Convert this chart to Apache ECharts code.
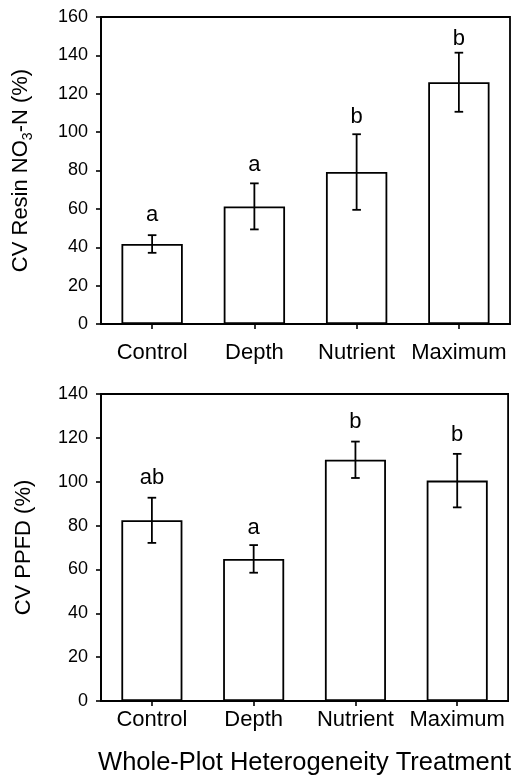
<!DOCTYPE html>
<html>
<head>
<meta charset="utf-8">
<script src="https://cdn.jsdelivr.net/npm/echarts@6/dist/echarts.min.js"></script>
<style>
html,body{margin:0;padding:0;background:#fff;}
#chart{width:513px;height:782px;}
</style>
</head>
<body>
<div id="chart"></div>
<script>
// ---- data ----
var categories = ['Control', 'Depth', 'Nutrient', 'Maximum'];

var nitrateMean = [41.7, 61.3, 79.2, 126.0];
var nitrateSE   = [4.6, 12.0, 19.7, 15.4];
var nitrateLetters = ['a', 'a', 'b', 'b'];
var nitrateLetterPos = [57, 83, 108, 148.5];

var ppfdMean = [82.4, 64.8, 110.0, 100.5];
var ppfdSE   = [10.3, 6.3, 8.3, 12.2];
var ppfdLetters = ['ab', 'a', 'b', 'b'];
var ppfdLetterPos = [101.5, 79, 127.4, 121.3];

var nitrateTicks = {min: 0, max: 160, interval: 20};
var ppfdTicks = {min: 0, max: 140, interval: 20};

// ---- chart ----
var FONT = 'Liberation Sans, Arial, Helvetica, sans-serif';
var chart = echarts.init(document.getElementById('chart'), null, {renderer: 'canvas'});

function errData(means, se) {
  return means.map(function (m, i) { return [i, m - se[i], m + se[i]]; });
}
function letterData(pos, letters) {
  return pos.map(function (p, i) { return [i, p, letters[i]]; });
}
function errRender(params, api) {
  var x = api.value(0);
  var lo = api.coord([x, api.value(1)]);
  var hi = api.coord([x, api.value(2)]);
  var hw = 4.3;
  var st = {stroke: '#000', lineWidth: 1.8};
  return {
    type: 'group',
    children: [
      {type: 'line', shape: {x1: lo[0], y1: lo[1], x2: hi[0], y2: hi[1]}, style: st},
      {type: 'line', shape: {x1: hi[0] - hw, y1: hi[1], x2: hi[0] + hw, y2: hi[1]}, style: st},
      {type: 'line', shape: {x1: lo[0] - hw, y1: lo[1], x2: lo[0] + hw, y2: lo[1]}, style: st}
    ]
  };
}
function letterRender(params, api) {
  var p = api.coord([api.value(0), api.value(1)]);
  return {
    type: 'text',
    x: p[0], y: p[1],
    style: {
      text: String(api.value(2)),
      fill: '#000',
      font: '22px ' + FONT,
      align: 'center',
      verticalAlign: 'middle'
    }
  };
}

var axisLineStyle = {show: true, lineStyle: {color: '#000', width: 1.8}};

function catAxis(gridIndex, margin, withName) {
  var ax = {
    type: 'category',
    gridIndex: gridIndex,
    data: categories,
    axisLine: axisLineStyle,
    axisTick: {show: true, alignWithLabel: true, length: 5, lineStyle: {color: '#000', width: 1.6}},
    axisLabel: {color: '#000', fontSize: 22, fontFamily: FONT, margin: margin, interval: 0},
    splitLine: {show: false}
  };
  if (withName) {
    ax.name = 'Whole-Plot Heterogeneity Treatment';
    ax.nameLocation = 'middle';
    ax.nameGap = 49;
    ax.nameTextStyle = {color: '#000', fontSize: 25.5, fontFamily: FONT};
  }
  return ax;
}
function valAxis(gridIndex, ticks, name, rich) {
  var ax = {
    type: 'value',
    gridIndex: gridIndex,
    min: ticks.min, max: ticks.max, interval: ticks.interval,
    axisLine: axisLineStyle,
    axisTick: {show: true, length: 5, lineStyle: {color: '#000', width: 1.6}},
    axisLabel: {color: '#000', fontSize: 18, fontFamily: FONT, margin: 13},
    splitLine: {show: false},
    name: name,
    nameLocation: 'middle',
    nameRotate: 90,
    nameGap: 66,
    nameTextStyle: {color: '#000', fontSize: 22, fontFamily: FONT}
  };
  if (rich) ax.nameTextStyle.rich = rich;
  return ax;
}

var option = {
  backgroundColor: '#fff',
  animation: false,
  grid: [
    {left: 101, top: 17, width: 409, height: 307, show: true, borderColor: '#000', borderWidth: 1.8, backgroundColor: 'transparent'},
    {left: 101, top: 394, width: 409, height: 307, show: true, borderColor: '#000', borderWidth: 1.8, backgroundColor: 'transparent'}
  ],
  xAxis: [catAxis(0, 18, false), catAxis(1, 8, true)],
  yAxis: [
    valAxis(0, nitrateTicks, '{t|CV Resin NO}{s|3}{t|-N (%)}', {
      t: {fontSize: 22, fontFamily: FONT, color: '#000', lineHeight: 28},
      s: {fontSize: 14, fontFamily: FONT, color: '#000', lineHeight: 28, verticalAlign: 'bottom', padding: [10, 0, 0, 0]}
    }),
    valAxis(1, ppfdTicks, 'CV PPFD (%)')
  ],
  series: [
    {type: 'bar', xAxisIndex: 0, yAxisIndex: 0, data: nitrateMean, barWidth: '60%',
     itemStyle: {color: '#fff', borderColor: '#000', borderWidth: 1.8}},
    {type: 'custom', xAxisIndex: 0, yAxisIndex: 0, data: errData(nitrateMean, nitrateSE), renderItem: errRender, z: 5},
    {type: 'custom', xAxisIndex: 0, yAxisIndex: 0, data: letterData(nitrateLetterPos, nitrateLetters), renderItem: letterRender, z: 6, clip: false},
    {type: 'bar', xAxisIndex: 1, yAxisIndex: 1, data: ppfdMean, barWidth: '60%',
     itemStyle: {color: '#fff', borderColor: '#000', borderWidth: 1.8}},
    {type: 'custom', xAxisIndex: 1, yAxisIndex: 1, data: errData(ppfdMean, ppfdSE), renderItem: errRender, z: 5},
    {type: 'custom', xAxisIndex: 1, yAxisIndex: 1, data: letterData(ppfdLetterPos, ppfdLetters), renderItem: letterRender, z: 6, clip: false}
  ]
};
chart.setOption(option);
</script>
</body>
</html>
